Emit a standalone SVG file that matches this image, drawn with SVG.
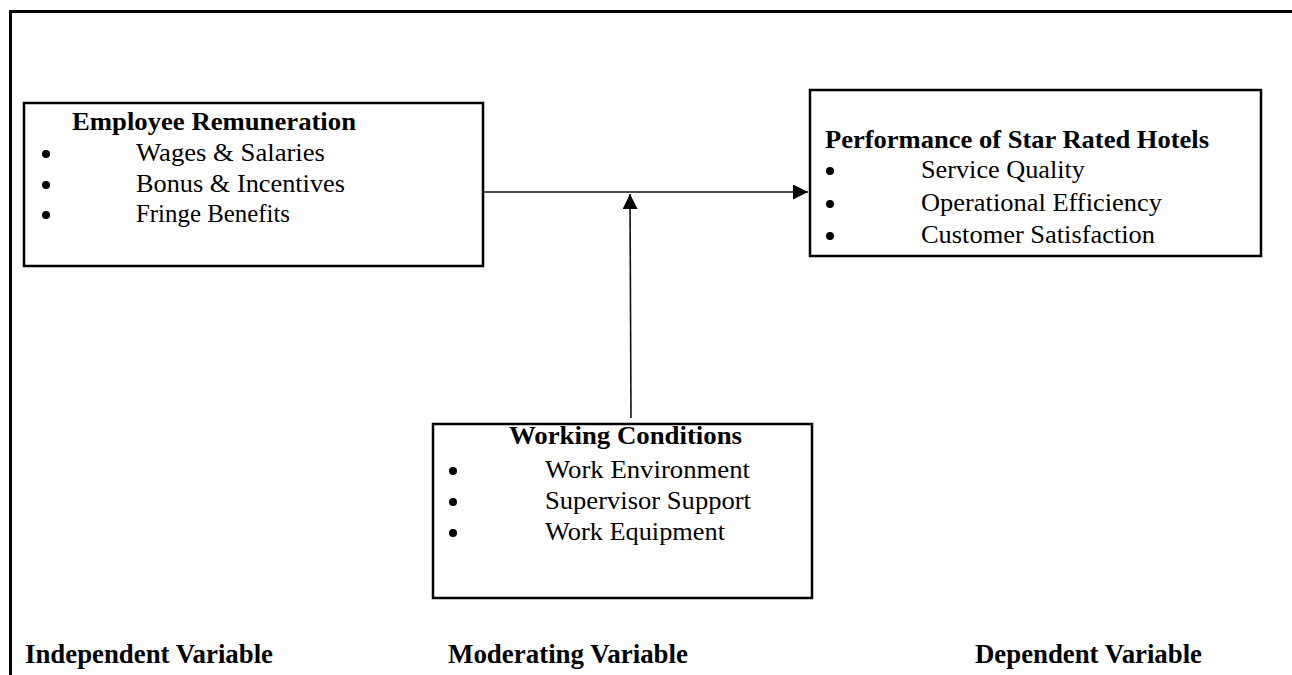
<svg xmlns="http://www.w3.org/2000/svg" width="1292" height="675" viewBox="0 0 1292 675">
<style>
.box{fill:#fff;stroke:#000;stroke-width:2.5}
.t{font-family:"Liberation Serif","Times New Roman",serif;font-size:26px;fill:#000}
.b{font-weight:bold}
.lbl{font-family:"Liberation Serif","Times New Roman",serif;font-size:27px;font-weight:bold;fill:#000}
.bul{fill:#000}
.conn{stroke:#111;stroke-width:1.6;fill:none}
</style>
<defs>
<marker id="ah" markerWidth="15" markerHeight="15" refX="15" refY="7.5" orient="auto" markerUnits="userSpaceOnUse">
<path d="M0,0 L15,7.5 L0,15 Z" fill="#000"/>
</marker>
</defs>
<rect width="1292" height="675" fill="#fff"/>
<path d="M10.5,677 V11.5 H1294" fill="none" stroke="#000" stroke-width="3"/>
<g id="connectors">
<line class="conn" x1="483" y1="192" x2="808" y2="192" marker-end="url(#ah)"/>
<line class="conn" x1="631" y1="418" x2="630" y2="194" marker-end="url(#ah)"/>
</g>
<g id="node-employee-remuneration">
<rect class="box" x="24" y="103" width="459" height="163"/>
<text class="t b" x="72" y="130" textLength="284" lengthAdjust="spacingAndGlyphs">Employee Remuneration</text>
<circle class="bul" cx="46" cy="154" r="4"/>
<text class="t" x="136" y="161" textLength="189" lengthAdjust="spacingAndGlyphs">Wages &amp; Salaries</text>
<circle class="bul" cx="46" cy="185" r="4"/>
<text class="t" x="136" y="192" textLength="209" lengthAdjust="spacingAndGlyphs">Bonus &amp; Incentives</text>
<circle class="bul" cx="46" cy="215" r="4"/>
<text class="t" x="136" y="222" textLength="154" lengthAdjust="spacingAndGlyphs">Fringe Benefits</text>
</g>
<g id="node-performance">
<rect class="box" x="810" y="90" width="451" height="166"/>
<text class="t b" x="825" y="148" textLength="384" lengthAdjust="spacingAndGlyphs">Performance of Star Rated Hotels</text>
<circle class="bul" cx="830" cy="171" r="4"/>
<text class="t" x="921" y="178" textLength="164" lengthAdjust="spacingAndGlyphs">Service Quality</text>
<circle class="bul" cx="830" cy="204" r="4"/>
<text class="t" x="921" y="211" textLength="241" lengthAdjust="spacingAndGlyphs">Operational Efficiency</text>
<circle class="bul" cx="830" cy="236" r="4"/>
<text class="t" x="921" y="243" textLength="234" lengthAdjust="spacingAndGlyphs">Customer Satisfaction</text>
</g>
<g id="node-working-conditions">
<rect class="box" x="433" y="424" width="379" height="174"/>
<text class="t b" x="509" y="444" textLength="233" lengthAdjust="spacingAndGlyphs">Working Conditions</text>
<circle class="bul" cx="453" cy="471" r="4"/>
<text class="t" x="545" y="478" textLength="205" lengthAdjust="spacingAndGlyphs">Work Environment</text>
<circle class="bul" cx="453" cy="502" r="4"/>
<text class="t" x="545" y="509" textLength="206" lengthAdjust="spacingAndGlyphs">Supervisor Support</text>
<circle class="bul" cx="453" cy="533" r="4"/>
<text class="t" x="545" y="540" textLength="180" lengthAdjust="spacingAndGlyphs">Work Equipment</text>
</g>
<g id="labels">
<text class="lbl" x="25" y="663" textLength="248" lengthAdjust="spacingAndGlyphs">Independent Variable</text>
<text class="lbl" x="448" y="663" textLength="240" lengthAdjust="spacingAndGlyphs">Moderating Variable</text>
<text class="lbl" x="975" y="663" textLength="227" lengthAdjust="spacingAndGlyphs">Dependent Variable</text>
</g>
</svg>
